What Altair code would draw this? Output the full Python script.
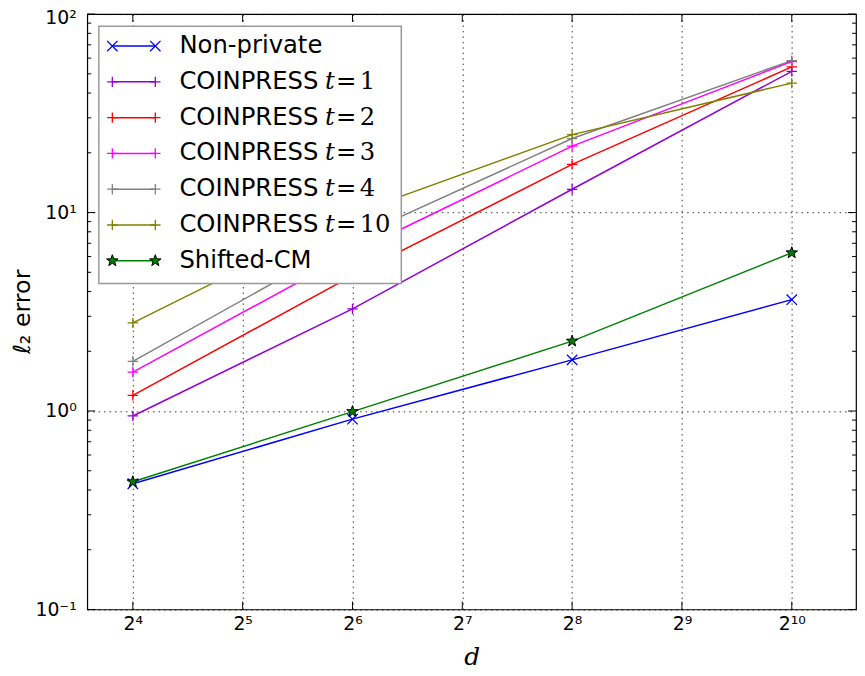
import math
import altair as alt
import pandas as pd

# ---------------- data ----------------
d_values = [16, 64, 256, 1024]
series_names = ["Non-private", "COINPRESS t=1", "COINPRESS t=2", "COINPRESS t=3",
                "COINPRESS t=4", "COINPRESS t=10", "Shifted-CM"]
non_private = [0.43, 0.91, 1.81, 3.64]
coin_t1 = [0.944, 3.27, 13.1, 51.5]
coin_t2 = [1.20, 4.81, 17.5, 54.2]
coin_t3 = [1.57, 6.27, 21.6, 57.7]
coin_t4 = [1.78, 7.39, 23.6, 58.3]
coin_t10 = [2.78, 9.85, 24.7, 44.9]
shifted_cm = [0.44, 0.993, 2.25, 6.27]

legend_main = ["Non-private", "COINPRESS", "COINPRESS", "COINPRESS", "COINPRESS", "COINPRESS", "Shifted-CM"]
legend_t = ["", "1", "2", "3", "4", "10", ""]

x_ticks = [16, 32, 64, 128, 256, 512, 1024]
y_ticks = [0.1, 1, 10, 100]
y_minor = [0.2, 0.3, 0.4, 0.5, 0.6, 0.7, 0.8, 0.9,
           2, 3, 4, 5, 6, 7, 8, 9,
           20, 30, 40, 50, 60, 70, 80, 90]

colors = ["#0000ff", "#9400d3", "#ff0000", "#ff00ff", "#808080", "#808000", "#008000"]

all_values = [non_private, coin_t1, coin_t2, coin_t3, coin_t4, coin_t10, shifted_cm]
rows = []
for name, vals in zip(series_names, all_values):
    for d, v in zip(d_values, vals):
        rows.append({"series": name, "d": d, "err": v})
df = pd.DataFrame(rows)

legend_df = pd.DataFrame({"series": series_names, "lab": legend_main, "tnum": legend_t})

# ---------------- style ----------------
W, H = 776, 601
cross_x = "M-1,-1L1,1M-1,1L1,-1"
plus = "M-1,0L1,0M0,-1L0,1"
star_pts = []
for k in range(10):
    r = 1.0 if k % 2 == 0 else 0.4
    a = -math.pi / 2 + k * math.pi / 5
    star_pts.append(f"{r*math.cos(a):.3f},{r*math.sin(a):.3f}")
star = "M" + "L".join(star_pts) + "Z"
shape_range = [cross_x, plus, plus, plus, plus, plus, star]

xscale = alt.Scale(type="log", base=2, domain=[12, 1536], nice=False)
yscale = alt.Scale(type="log", domain=[0.1, 100], nice=False)
cscale = alt.Scale(domain=series_names, range=colors)
sscale = alt.Scale(domain=series_names, range=shape_range)
leg_y = alt.Y("series:N", scale=alt.Scale(type="point", domain=series_names,
                                           range=[32.3, 249], padding=0), axis=None)

x_label_expr = ("'2' + ['\u2070','\u00b9','\u00b2','\u00b3','\u2074','\u2075','\u2076',"
                "'\u2077','\u2078','\u2079','\u00b9\u2070'][round(log(datum.value)/LN2)]")
y_label_expr = ("'10' + ['\u207b\u00b9','\u2070','\u00b9','\u00b2']"
                "[round(log(datum.value)/LN10)+1]")

grid_style = dict(grid=True, gridColor="black", gridDash=[1.5, 4], gridWidth=1, gridOpacity=0.8)

base = alt.Chart(df)

lines = base.mark_line(strokeWidth=1.5, clip=True).encode(
    x=alt.X("d:Q", scale=xscale,
            axis=alt.Axis(values=x_ticks, labelExpr=x_label_expr, **grid_style,
                          ticks=False, domain=False, labelFontSize=19, labelPadding=5,
                          labelColor="black", labelFont="DejaVu Sans",
                          title="d", titleFont="DejaVu Serif", titleFontStyle="italic",
                          titleFontWeight="normal", titleFontSize=25, titleColor="black",
                          titleY=48, titleBaseline="middle")),
    y=alt.Y("err:Q", scale=yscale,
            axis=alt.Axis(values=y_ticks, labelExpr=y_label_expr, **grid_style,
                          ticks=False, domain=False, labelFontSize=19, labelPadding=11,
                          labelColor="black", labelFont="DejaVu Sans",
                          labelOffset={"condition": {"test": "datum.value >= 100", "value": 4},
                                       "value": 0},
                          title="\u2113\u2082 error", titleFont="DejaVu Sans",
                          titleFontWeight="normal", titleFontSize=24, titleColor="black",
                          titleX=-58, titleY=300, titleAngle=270,
                          titleAlign="center", titleBaseline="alphabetic")),
    color=alt.Color("series:N", scale=cscale, legend=None),
)

markers = base.mark_point(filled=False, strokeWidth=1.3, size=110, opacity=1).encode(
    x=alt.X("d:Q", scale=xscale),
    y=alt.Y("err:Q", scale=yscale, axis=None),
    color=alt.Color("series:N", scale=cscale, legend=None),
    shape=alt.Shape("series:N", scale=sscale, legend=None),
).transform_filter(alt.datum.series != "Shifted-CM")

stars = base.mark_point(filled=True, fill="#008000", stroke="black", strokeWidth=1,
                        shape=star, size=150, opacity=1).encode(
    x=alt.X("d:Q", scale=xscale),
    y=alt.Y("err:Q", scale=yscale, axis=None),
).transform_filter(alt.datum.series == "Shifted-CM")

# inside ticks (matplotlib classic style)
ymaj = alt.Chart(pd.DataFrame({"v": y_ticks}))
yminr = alt.Chart(pd.DataFrame({"v": y_minor}))
xmaj = alt.Chart(pd.DataFrame({"v": x_ticks}))
tick_layers = [
    ymaj.mark_rule(color="black", strokeWidth=1).encode(
        y=alt.Y("v:Q", scale=yscale, axis=None), x=alt.value(0), x2=alt.value(8)),
    ymaj.mark_rule(color="black", strokeWidth=1).encode(
        y=alt.Y("v:Q", scale=yscale, axis=None), x=alt.value(W - 8), x2=alt.value(W)),
    yminr.mark_rule(color="black", strokeWidth=1).encode(
        y=alt.Y("v:Q", scale=yscale, axis=None), x=alt.value(0), x2=alt.value(4)),
    yminr.mark_rule(color="black", strokeWidth=1).encode(
        y=alt.Y("v:Q", scale=yscale, axis=None), x=alt.value(W - 4), x2=alt.value(W)),
    xmaj.mark_rule(color="black", strokeWidth=1).encode(
        x=alt.X("v:Q", scale=xscale), y=alt.value(H - 8), y2=alt.value(H)),
    xmaj.mark_rule(color="black", strokeWidth=1).encode(
        x=alt.X("v:Q", scale=xscale), y=alt.value(0), y2=alt.value(8)),
]

# legend
leg = alt.Chart(legend_df)
leg_box = alt.Chart(pd.DataFrame({"a": [0]})).mark_rect(
    fill="white", stroke="#999999", strokeWidth=1.5).encode(
    x=alt.value(11.7), x2=alt.value(317), y=alt.value(12.3), y2=alt.value(272))
leg_lines = leg.mark_rule(strokeWidth=1.5).encode(
    y=leg_y, x=alt.value(25.3), x2=alt.value(68.7),
    color=alt.Color("series:N", scale=cscale, legend=None))
leg_m = []
for xv in (25.3, 68.7):
    leg_m.append(leg.mark_point(filled=False, strokeWidth=1.3, size=110, opacity=1).encode(
        y=leg_y, x=alt.value(xv),
        color=alt.Color("series:N", scale=cscale, legend=None),
        shape=alt.Shape("series:N", scale=sscale, legend=None),
    ).transform_filter(alt.datum.series != "Shifted-CM"))
    leg_m.append(leg.mark_point(filled=True, fill="#008000", stroke="black", strokeWidth=1,
                                shape=star, size=150, opacity=1).encode(
        y=leg_y, x=alt.value(xv)).transform_filter(alt.datum.series == "Shifted-CM"))
leg_text = leg.mark_text(align="left", baseline="middle", font="DejaVu Sans",
                         fontSize=24.5, color="black").encode(
    y=leg_y, x=alt.value(93), text="lab:N")
leg_t = leg.mark_text(align="left", baseline="middle", font="DejaVu Serif",
                      fontStyle="italic", fontSize=24.5, color="black").encode(
    y=leg_y, x=alt.value(240), text=alt.value("t")).transform_filter(alt.datum.tnum != "")
leg_eq = leg.mark_text(align="left", baseline="middle", font="DejaVu Serif",
                       fontSize=24.5, color="black").encode(
    y=leg_y, x=alt.value(251), text=alt.value("=")).transform_filter(alt.datum.tnum != "")
leg_num = leg.mark_text(align="left", baseline="middle", font="DejaVu Serif",
                        fontSize=24.5, color="black").encode(
    y=leg_y, x=alt.value(275), text="tnum:N").transform_filter(alt.datum.tnum != "")

chart = alt.layer(
    lines, markers, stars, *tick_layers,
    leg_box, leg_lines, *leg_m, leg_text, leg_t, leg_eq, leg_num,
).resolve_scale(y="independent").properties(
    width=W, height=H,
    autosize=alt.AutoSizeParams(type="none"),
    padding={"left": 80, "top": 3, "right": 1, "bottom": 63},
).configure(font="DejaVu Sans").configure_view(stroke="black", strokeWidth=1.2)

chart.save("out.html", embed_options={"renderer": "svg", "actions": False})
